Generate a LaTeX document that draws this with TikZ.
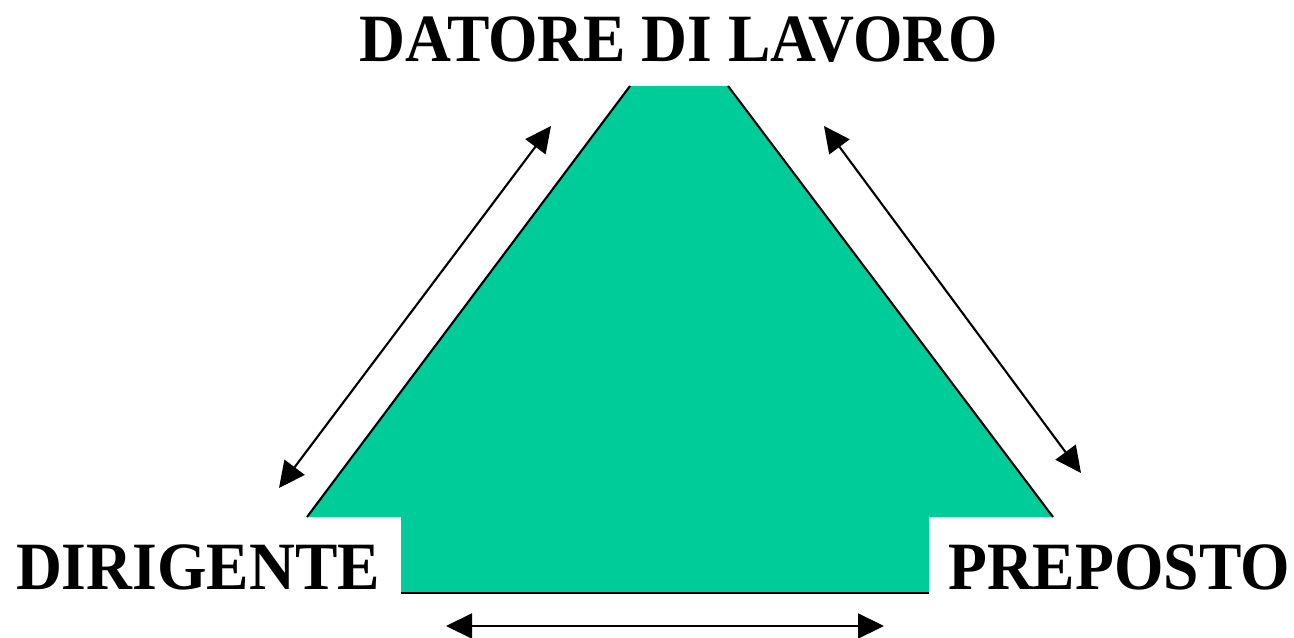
\documentclass[tikz,border=0pt]{standalone}
\usepackage{fontspec}
\setmainfont{Liberation Serif}
\usetikzlibrary{arrows.meta}
\definecolor{verde}{HTML}{00CC99}
\begin{document}
\begin{tikzpicture}[x=0.02cm, y=-0.02cm,
    lbl/.style={font=\fontsize{38.5}{46}\selectfont\bfseries, inner sep=0pt, anchor=base, transform shape, xscale=0.94},
    rel/.style={line width=1.2pt, {Triangle[length=0.52cm, width=0.5cm]}-{Triangle[length=0.52cm, width=0.5cm]}}]
	     \useasboundingbox (0,0) rectangle (1294,638);
	     \fill[verde] (630,86) -- (728,86) -- (1053,517) -- (929,517) -- (929,593)
	       -- (401,593) -- (401,517) -- (307,517) -- cycle;
	     \draw[line width=1.2pt] (630,86) -- (307,517);
	     \draw[line width=1.2pt] (728,86) -- (1053,517);
	     \draw[line width=1.2pt] (401,593) -- (929,593);

	     \node[lbl] (dl) at (679,62) {DATORE DI LAVORO};
	     \node[lbl] (dir) at (198,589) {DIRIGENTE};
	     \node[lbl] (pre) at (1119,589) {PREPOSTO};

	     \coordinate (a1) at (551,126);
	     \coordinate (a2) at (279,488);
	     \coordinate (b1) at (824,126);
	     \coordinate (b2) at (1081,473);
	     \coordinate (c1) at (446,626);
	     \coordinate (c2) at (884,626);
	     \draw[rel] (a1) -- (a2);
	     \draw[rel] (b1) -- (b2);
	     \draw[rel] (c1) -- (c2);
	     \end{tikzpicture}
\end{document}
